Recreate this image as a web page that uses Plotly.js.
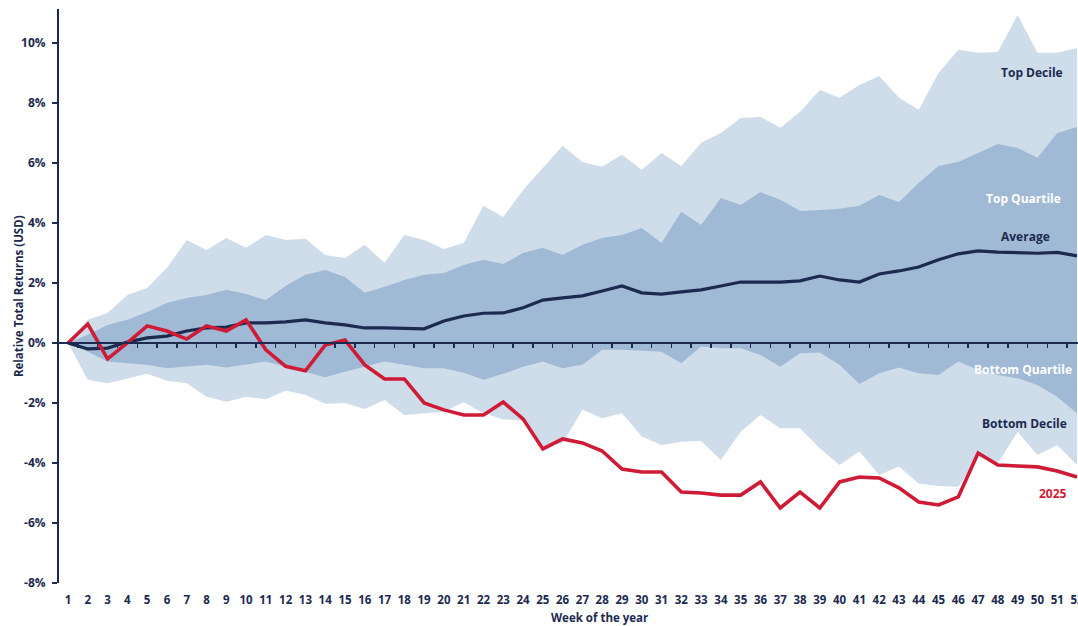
<!DOCTYPE html>
<html>
<head>
<meta charset="utf-8">
<script src="https://cdn.plot.ly/plotly-3.0.1.min.js"></script>
<style>
  html, body { margin: 0; padding: 0; background: #ffffff; }
  #chart { width: 1078px; height: 626px; }
</style>
</head>
<body>
<div id="chart"></div>
<script>
// Week numbers (x axis)
const weeks = Array.from({length: 52}, (_, i) => i + 1);

// Relative total returns (%), by week
const topDecile = [0, 0.77, 1.0, 1.6, 1.83, 2.5, 3.43, 3.1, 3.5, 3.17,
  3.6, 3.43, 3.47, 2.93, 2.83, 3.27, 2.67, 3.6, 3.43, 3.13,
  3.33, 4.57, 4.2, 5.1, 5.83, 6.57, 6.03, 5.87, 6.27, 5.77,
  6.33, 5.9, 6.67, 7.0, 7.5, 7.53, 7.17, 7.7, 8.43, 8.17,
  8.6, 8.9, 8.17, 7.77, 9.0, 9.77, 9.67, 9.7, 10.93, 9.67,
  9.67, 9.83];

const topQuartile = [0, 0.27, 0.6, 0.77, 1.03, 1.33, 1.5, 1.6, 1.77, 1.63,
  1.43, 1.9, 2.27, 2.43, 2.2, 1.67, 1.87, 2.1, 2.27, 2.33,
  2.6, 2.77, 2.63, 3.0, 3.17, 2.93, 3.27, 3.5, 3.6, 3.83,
  3.33, 4.37, 3.93, 4.83, 4.6, 5.03, 4.77, 4.4, 4.43, 4.47,
  4.57, 4.93, 4.7, 5.33, 5.9, 6.03, 6.33, 6.63, 6.5, 6.17,
  7.0, 7.2];

const average = [0, -0.2, -0.17, 0.03, 0.17, 0.23, 0.4, 0.5, 0.53, 0.67,
  0.67, 0.7, 0.77, 0.67, 0.6, 0.5, 0.5, 0.48, 0.47, 0.73,
  0.9, 0.99, 1.0, 1.17, 1.43, 1.5, 1.57, 1.73, 1.9, 1.67,
  1.63, 1.7, 1.77, 1.9, 2.03, 2.03, 2.03, 2.07, 2.23, 2.1,
  2.03, 2.3, 2.4, 2.53, 2.77, 2.97, 3.07, 3.03, 3.0, 2.99,
  3.02, 2.9];

const bottomQuartile = [0, -0.29, -0.62, -0.68, -0.73, -0.84, -0.79, -0.73, -0.82, -0.73,
  -0.62, -0.79, -0.96, -1.14, -0.96, -0.79, -0.62, -0.73, -0.84, -0.84,
  -0.99, -1.23, -1.03, -0.79, -0.62, -0.84, -0.73, -0.23, -0.23, -0.26,
  -0.29, -0.68, -0.12, -0.18, -0.18, -0.4, -0.79, -0.34, -0.32, -0.73,
  -1.37, -1.01, -0.82, -1.01, -1.07, -0.62, -0.9, -1.07, -1.18, -1.4,
  -1.79, -2.34];

const bottomDecile = [0, -1.23, -1.34, -1.18, -1.03, -1.26, -1.34, -1.79, -1.96, -1.79,
  -1.88, -1.59, -1.73, -2.03, -2.0, -2.2, -1.9, -2.4, -2.34, -2.29,
  -1.98, -2.34, -2.54, -2.59, -3.45, -3.34, -2.23, -2.51, -2.34, -3.12,
  -3.4, -3.29, -3.27, -3.9, -2.96, -2.4, -2.84, -2.84, -3.51, -4.07,
  -3.62, -4.4, -4.12, -4.68, -4.77, -4.79, -3.79, -4.01, -2.96, -3.73,
  -3.4, -4.07];

const returns2025 = [0, 0.63, -0.53, 0.0, 0.57, 0.4, 0.13, 0.57, 0.4, 0.77,
  -0.23, -0.78, -0.93, -0.07, 0.1, -0.73, -1.2, -1.2, -2.0, -2.23,
  -2.4, -2.4, -1.97, -2.53, -3.53, -3.2, -3.33, -3.6, -4.2, -4.3,
  -4.3, -4.97, -5.0, -5.07, -5.07, -4.63, -5.5, -4.97, -5.5, -4.63,
  -4.47, -4.5, -4.83, -5.3, -5.4, -5.13, -3.67, -4.07, -4.1, -4.13,
  -4.27, -4.47];

// Y axis ticks
const yTickVals = [-8, -6, -4, -2, 0, 2, 4, 6, 8, 10];
const yTickText = yTickVals.map(v => v + '%');

const NAVY = '#1c2a50';
const RED = '#cf1b36';
const LIGHT = '#cfdce9';
const MID = '#a0b9d5';
const FONT = '"Open Sans", "Liberation Sans", sans-serif';

const traces = [
  // Decile band
  { x: weeks, y: topDecile, type: 'scatter', mode: 'lines',
    line: { width: 0, color: LIGHT }, hoverinfo: 'skip', showlegend: false },
  { x: weeks, y: bottomDecile, type: 'scatter', mode: 'lines', fill: 'tonexty',
    fillcolor: LIGHT, line: { width: 0, color: LIGHT }, hoverinfo: 'skip', showlegend: false },
  // Quartile band
  { x: weeks, y: topQuartile, type: 'scatter', mode: 'lines',
    line: { width: 0, color: MID }, hoverinfo: 'skip', showlegend: false },
  { x: weeks, y: bottomQuartile, type: 'scatter', mode: 'lines', fill: 'tonexty',
    fillcolor: MID, line: { width: 0, color: MID }, hoverinfo: 'skip', showlegend: false },
  // Average
  { x: weeks, y: average, type: 'scatter', mode: 'lines',
    line: { width: 3.2, color: NAVY }, hoverinfo: 'skip', showlegend: false },
  // 2025
  { x: weeks, y: returns2025, type: 'scatter', mode: 'lines',
    line: { width: 3.6, color: RED }, hoverinfo: 'skip', showlegend: false }
];

const xRange = [0.545, 52.05];
const yRange = [-8, 11.13];
const zeroPos = (0 - yRange[0]) / (yRange[1] - yRange[0]);

const boldFont = (size, color) => ({ family: FONT, size: size, color: color, weight: 700 });

const labels = [
  { text: 'Top Decile', x: 49.74, y: 9.03, color: NAVY },
  { text: 'Top Quartile', x: 49.28, y: 4.83, color: '#ffffff' },
  { text: 'Average', x: 49.38, y: 3.55, color: NAVY },
  { text: 'Bottom Quartile', x: 49.28, y: -0.87, color: '#ffffff' },
  { text: 'Bottom Decile', x: 49.33, y: -2.7, color: NAVY },
  { text: '2025', x: 50.8, y: -5.03, color: RED }
];

const annotations = labels.map(l => ({
  text: l.text, x: l.x, y: l.y, xref: 'x', yref: 'y',
  showarrow: false, xanchor: 'center', yanchor: 'middle',
  font: boldFont(12, l.color)
}));

annotations.push({
  text: 'Relative Total Returns (USD)', xref: 'paper', yref: 'paper',
  x: -0.0402, y: 0.5, textangle: -90, showarrow: false,
  xanchor: 'center', yanchor: 'middle', font: boldFont(11.5, NAVY)
});
annotations.push({
  text: 'Week of the year', xref: 'paper', yref: 'paper',
  x: 0.53, y: -0.0595, showarrow: false,
  xanchor: 'center', yanchor: 'middle', font: boldFont(11.5, NAVY)
});

const layout = {
  width: 1078, height: 626,
  margin: { l: 59, r: 0, t: 9, b: 43, pad: 0 },
  paper_bgcolor: '#ffffff', plot_bgcolor: '#ffffff',
  showlegend: false,
  xaxis: {
    range: xRange, tickmode: 'array', tickvals: weeks, ticktext: weeks.map(String),
    showline: false, ticks: '', showgrid: false, zeroline: false,
    tickfont: boldFont(11.5, NAVY), ticklabelstandoff: 8, ticklabeloverflow: 'allow',
    fixedrange: true
  },
  xaxis2: {
    range: xRange, overlaying: 'x', anchor: 'free', position: zeroPos, side: 'bottom',
    tickmode: 'array', tickvals: weeks.slice(0, -1).map(w => w + 0.5),
    showticklabels: false, ticks: 'outside', ticklen: 4, tickwidth: 1.5, tickcolor: NAVY,
    showline: true, linecolor: NAVY, linewidth: 2, showgrid: false, zeroline: false,
    fixedrange: true
  },
  yaxis: {
    range: yRange, tickmode: 'array', tickvals: yTickVals, ticktext: yTickText,
    showline: true, linecolor: NAVY, linewidth: 2, ticks: 'outside', ticklen: 5,
    tickwidth: 1.5, tickcolor: NAVY, showgrid: false, zeroline: false,
    tickfont: boldFont(12, NAVY), ticklabelstandoff: 4, fixedrange: true
  },
  annotations: annotations
};

// Invisible trace to activate the zero-line axis
traces.push({ x: [weeks[0]], y: [0], xaxis: 'x2', type: 'scatter', mode: 'markers',
  marker: { opacity: 0 }, hoverinfo: 'skip', showlegend: false });

Plotly.newPlot('chart', traces, layout, { displayModeBar: false, staticPlot: true });
</script>
</body>
</html>
